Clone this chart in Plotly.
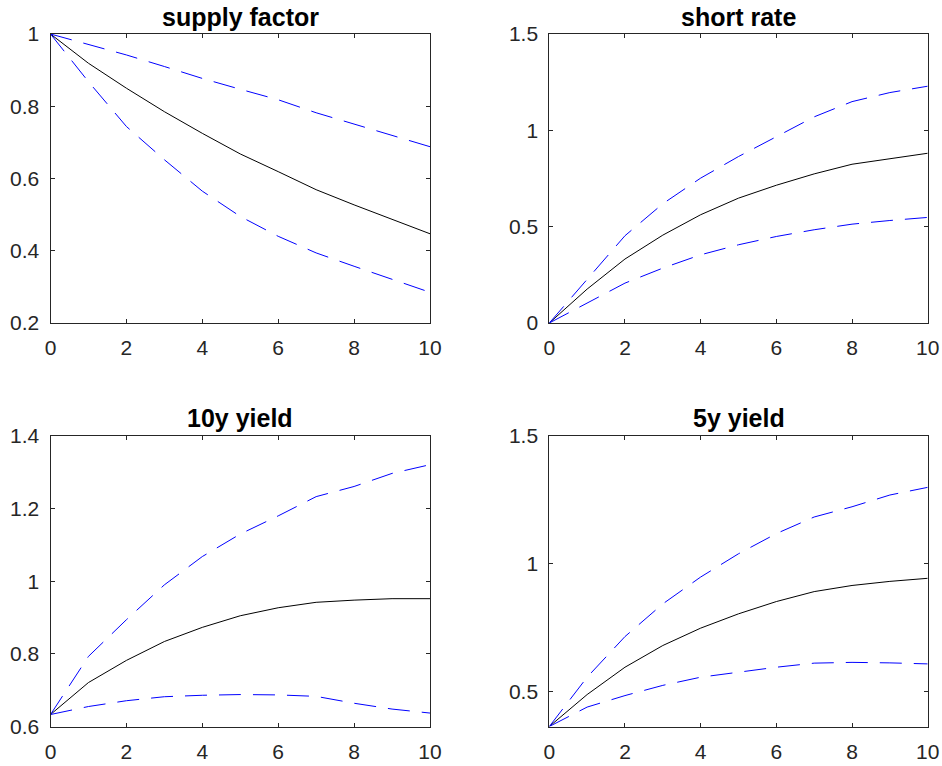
import plotly.graph_objects as go

x = [0, 1, 2, 3, 4, 5, 6, 7, 8, 9, 10]

supply_mid = [1.0, 0.919, 0.850, 0.785, 0.725, 0.668, 0.619, 0.569, 0.527, 0.488, 0.447]
supply_up = [1.0, 0.972, 0.942, 0.910, 0.877, 0.847, 0.818, 0.782, 0.751, 0.721, 0.688]
supply_lo = [1.0, 0.868, 0.744, 0.652, 0.565, 0.495, 0.440, 0.394, 0.357, 0.320, 0.285]

short_mid = [0.0, 0.176, 0.332, 0.456, 0.562, 0.648, 0.715, 0.774, 0.824, 0.854, 0.881]
short_up = [0.0, 0.225, 0.453, 0.619, 0.752, 0.864, 0.968, 1.070, 1.149, 1.196, 1.229]
short_lo = [0.0, 0.104, 0.207, 0.285, 0.354, 0.406, 0.449, 0.484, 0.513, 0.532, 0.548]

y10_mid = [0.633, 0.721, 0.782, 0.834, 0.873, 0.905, 0.927, 0.942, 0.948, 0.952, 0.952]
y10_up = [0.633, 0.793, 0.894, 0.990, 1.068, 1.130, 1.180, 1.233, 1.261, 1.297, 1.321]
y10_lo = [0.633, 0.655, 0.671, 0.682, 0.686, 0.688, 0.687, 0.683, 0.664, 0.648, 0.637]

y5_mid = [0.363, 0.488, 0.595, 0.680, 0.748, 0.804, 0.852, 0.891, 0.915, 0.931, 0.943]
y5_up = [0.363, 0.556, 0.715, 0.843, 0.948, 1.039, 1.118, 1.183, 1.223, 1.269, 1.299]
y5_lo = [0.363, 0.439, 0.484, 0.524, 0.556, 0.576, 0.595, 0.611, 0.614, 0.612, 0.608]

titles = ["supply factor", "short rate", "10y yield", "5y yield"]
x_ticks = [0, 2, 4, 6, 8, 10]
x_ticktext = ["0", "2", "4", "6", "8", "10"]
y_ticks = [
    [0.2, 0.4, 0.6, 0.8, 1.0],
    [0, 0.5, 1.0, 1.5],
    [0.6, 0.8, 1.0, 1.2, 1.4],
    [0.5, 1.0, 1.5],
]
y_ticktext = [
    ["0.2", "0.4", "0.6", "0.8", "1"],
    ["0", "0.5", "1", "1.5"],
    ["0.6", "0.8", "1", "1.2", "1.4"],
    ["0.5", "1", "1.5"],
]
y_ranges = [[0.2, 1.0], [0.0, 1.5], [0.6, 1.4], [0.363, 1.5]]

series = [
    (supply_mid, supply_up, supply_lo),
    (short_mid, short_up, short_lo),
    (y10_mid, y10_up, y10_lo),
    (y5_mid, y5_up, y5_lo),
]

W, H = 942, 766
# pixel boxes (left, right, top, bottom)
boxes = [
    (50.5, 430, 34, 323),
    (549.3, 927.7, 34, 323),
    (50.5, 430, 436, 726.5),
    (549.3, 927.7, 436, 726.5),
]
title_y_px = [17, 418]

fig = go.Figure()
axis_color = "#262626"
font_family = "Liberation Sans, Arial, sans-serif"

layout = dict(
    width=W, height=H,
    margin=dict(l=0, r=0, t=0, b=0),
    paper_bgcolor="white", plot_bgcolor="white",
    showlegend=False,
    annotations=[],
)

for i, (mid, up, lo) in enumerate(series):
    xa = "x" if i == 0 else f"x{i+1}"
    ya = "y" if i == 0 else f"y{i+1}"
    for ys, col, dash in ((mid, "black", "solid"), (up, "#0000FF", "22px,12px"), (lo, "#0000FF", "22px,12px")):
        fig.add_trace(go.Scatter(x=x, y=ys, mode="lines", xaxis=xa, yaxis=ya,
                                 line=dict(color=col, width=1, dash=dash), hoverinfo="skip"))
    l, r, t, b = boxes[i]
    xkey = "xaxis" if i == 0 else f"xaxis{i+1}"
    ykey = "yaxis" if i == 0 else f"yaxis{i+1}"
    layout[xkey] = dict(
        domain=[l / W, r / W], anchor=ya, range=[0, 10],
        tickvals=x_ticks, ticktext=x_ticktext,
        showline=True, mirror="ticks", linecolor=axis_color, linewidth=1,
        ticks="inside", ticklen=4, tickcolor=axis_color, showgrid=False, zeroline=False,
        tickfont=dict(family=font_family, size=21, color=axis_color),
        automargin=False, ticklabelstandoff=6,
    )
    layout[ykey] = dict(
        domain=[1 - b / H, 1 - t / H], anchor=xa, range=y_ranges[i],
        tickvals=y_ticks[i], ticktext=y_ticktext[i],
        showline=True, mirror="ticks", linecolor=axis_color, linewidth=1,
        ticks="inside", ticklen=4, tickcolor=axis_color, showgrid=False, zeroline=False,
        tickfont=dict(family=font_family, size=21, color=axis_color),
        automargin=False, ticklabelstandoff=6,
    )
    layout["annotations"].append(dict(
        text=f"<b>{titles[i]}</b>", xref="paper", yref="paper",
        x=(l + r) / 2 / W, y=1 - title_y_px[i // 2] / H,
        xanchor="center", yanchor="middle", showarrow=False,
        font=dict(family=font_family, size=25, color="black"),
    ))

fig.update_layout(**layout)
fig.write_html("out.html")
